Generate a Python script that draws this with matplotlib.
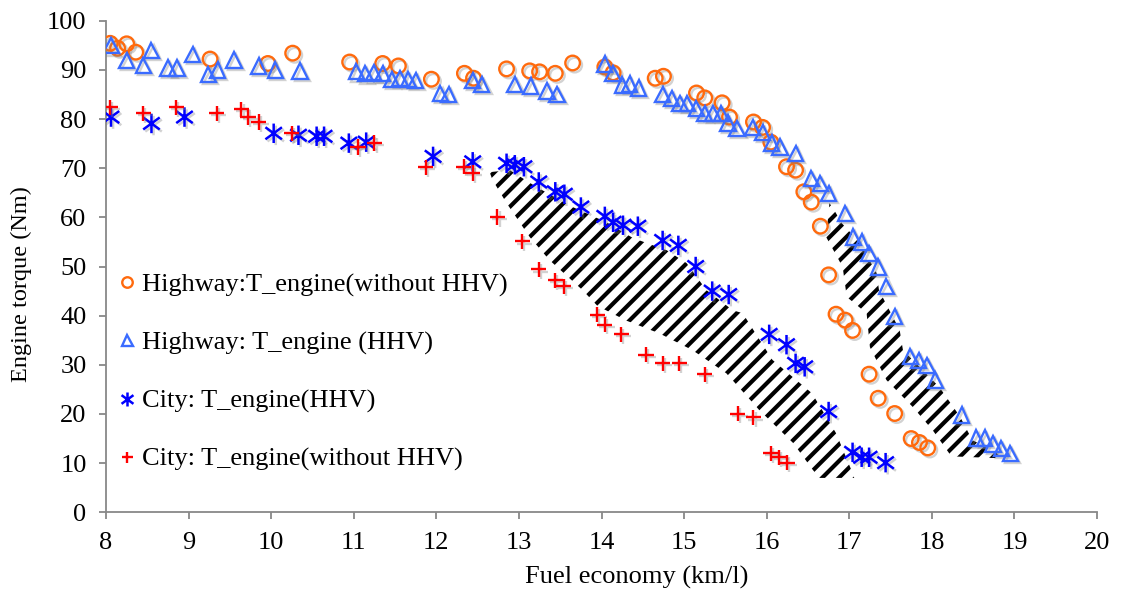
import numpy as np
import matplotlib
matplotlib.use("Agg")
import matplotlib.pyplot as plt
import matplotlib.patheffects as pe
from matplotlib.path import Path

plt.rcParams["font.family"] = ["Liberation Serif", "DejaVu Serif"]
plt.rcParams["hatch.linewidth"] = 3.0

# Highway, without HHV (orange circles)
hw_nohhv_x = [8.05, 8.14, 8.25, 8.36, 9.26, 9.96, 10.26, 10.95, 11.35, 11.54, 11.94, 12.34,
              12.45, 12.85, 13.13, 13.25, 13.44, 13.65, 14.04, 14.14, 14.65, 14.75, 15.15,
              15.25, 15.46, 15.55, 15.84, 15.95, 16.05, 16.24, 16.35, 16.45, 16.54, 16.65,
              16.75, 16.84, 16.95, 17.04, 17.24, 17.35, 17.55, 17.75, 17.85, 17.95]
hw_nohhv_y = [95.4, 94.4, 95.3, 93.6, 92.2, 91.3, 93.4, 91.6, 91.3, 90.8, 88.1, 89.3,
              88.3, 90.2, 89.8, 89.6, 89.3, 91.4, 90.6, 89.4, 88.3, 88.7, 85.3,
              84.3, 83.3, 80.4, 79.4, 78.3, 75.3, 70.3, 69.6, 65.2, 63.1, 58.2,
              48.3, 40.3, 39.1, 37.0, 28.1, 23.2, 20.1, 15.0, 14.2, 13.1]

# Highway, with HHV (blue triangles)
hw_hhv_x = [8.06, 8.25, 8.45, 8.55, 8.75, 8.86, 9.05, 9.24, 9.35, 9.55, 9.85, 10.05, 10.35,
            11.03, 11.14, 11.24, 11.35, 11.46, 11.56, 11.66, 11.75, 12.05, 12.15, 12.44,
            12.55, 12.95, 13.14, 13.34, 13.46, 14.04, 14.14, 14.25, 14.34, 14.45, 14.74,
            14.85, 14.95, 15.04, 15.15, 15.25, 15.35, 15.45, 15.53, 15.64, 15.83, 15.95,
            16.06, 16.16, 16.35, 16.54, 16.65, 16.75, 16.95, 17.05, 17.15, 17.24, 17.35,
            17.45, 17.55, 17.74, 17.84, 17.94, 18.04, 18.36, 18.54, 18.64, 18.74, 18.84, 18.95]
hw_hhv_y = [94.9, 91.9, 90.9, 94.0, 90.4, 90.4, 93.2, 89.1, 90.0, 92.0, 90.8, 90.0, 89.8,
            89.6, 89.2, 89.4, 89.3, 88.1, 88.3, 88.1, 87.9, 85.2, 85.0, 87.9,
            87.0, 87.0, 86.7, 85.7, 85.0, 91.2, 89.3, 86.9, 87.1, 86.3, 85.0,
            84.2, 83.2, 83.2, 82.2, 81.2, 81.2, 81.2, 79.2, 78.1, 78.3, 77.3,
            75.1, 74.3, 73.0, 67.9, 66.9, 64.9, 60.8, 56.0, 55.0, 52.6, 49.9,
            45.9, 39.9, 31.7, 30.9, 29.9, 26.9, 19.8, 15.1, 15.1, 13.9, 13.0, 12.0]

# City, with HHV (blue stars)
city_hhv_x = [8.06, 8.55, 8.95, 10.03, 10.33, 10.55, 10.64, 10.94, 11.15, 11.96, 12.44,
              12.85, 12.95, 13.06, 13.24, 13.44, 13.55, 13.75, 14.04, 14.14, 14.26, 14.44,
              14.74, 14.93, 15.14, 15.34, 15.54, 16.03, 16.24, 16.35, 16.46, 16.75, 17.04,
              17.15, 17.24, 17.44]
city_hhv_y = [80.4, 79.1, 80.4, 77.1, 76.7, 76.5, 76.5, 75.1, 75.3, 72.4, 71.3,
              71.0, 70.7, 70.3, 67.2, 65.2, 64.7, 62.1, 60.2, 59.0, 58.4, 58.2,
              55.3, 54.3, 50.0, 45.0, 44.3, 36.2, 34.1, 30.3, 29.6, 20.5, 12.2,
              11.2, 11.2, 10.1]

# City, without HHV (red plus)
city_nohhv_x = [8.05, 8.45, 8.85, 9.34, 9.64, 9.72, 9.85, 10.25, 11.05, 11.25, 11.87, 12.33,
                12.44, 12.74, 13.04, 13.24, 13.44, 13.54, 13.95, 14.04, 14.24, 14.54,
                14.74, 14.94, 15.25, 15.65, 15.84, 16.05, 16.15, 16.25]
city_nohhv_y = [82.4, 81.2, 82.4, 81.2, 82.0, 80.4, 79.4, 77.1, 74.3, 75.1, 70.2, 70.3,
                69.0, 60.1, 55.1, 49.4, 47.2, 46.0, 40.2, 38.2, 36.2, 32.1,
                30.3, 30.3, 28.1, 20.1, 19.3, 12.0, 11.2, 10.1]

# hatched bands between the series
city_band_x = [12.645, 12.89, 13.21, 13.65, 14.06, 14.38, 14.79, 15.03, 15.27, 15.59, 15.71,
               16.07, 16.55, 16.84, 17.04, 17.06, 16.64, 16.56, 16.32, 15.91, 15.51,
               15.10, 14.70, 14.30, 13.95, 13.77, 13.37, 13.13, 12.85, 12.68]
city_band_y = [69.2, 69.6, 66.2, 62.1, 59.0, 55.8, 53.3, 50.7, 45.2, 41.1, 40.5,
               31.0, 24.2, 16.1, 8.0, 7.0, 7.0, 8.6, 14.1, 20.8, 28.3,
               33.0, 36.4, 39.0, 42.0, 45.2, 51.3, 56.0, 62.9, 67.6]
hw_band_x = [16.76, 16.72, 16.92, 16.97, 17.21, 17.25, 17.45, 17.77, 18.01, 18.21, 18.22,
             18.82, 18.79, 18.49, 18.34, 18.09, 17.65, 17.61, 17.36, 17.33, 17.13, 16.91, 16.82]
hw_band_y = [62.9, 56.0, 49.9, 43.8, 40.5, 33.6, 26.9, 21.4, 16.7, 12.0, 11.4,
             11.0, 12.0, 14.7, 19.5, 25.5, 33.0, 37.1, 45.2, 48.7, 54.8, 58.8, 61.4]

labels = ["Highway:T_engine(without HHV)", "Highway: T_engine (HHV)",
          "City: T_engine(HHV)", "City: T_engine(without HHV)"]

star = Path([(0, -1), (0, 1), (-0.85, -0.62), (0.85, 0.62), (-0.85, 0.62), (0.85, -0.62)],
            [Path.MOVETO, Path.LINETO, Path.MOVETO, Path.LINETO, Path.MOVETO, Path.LINETO])

shadow = [pe.SimpleLineShadow(offset=(1.5, -1.5), shadow_color="gray", alpha=0.35), pe.Normal()]

fig = plt.figure(figsize=(11.21, 5.92), dpi=100)
ax = fig.add_axes([0.0946, 0.1346, 0.884, 0.8304])

for bx, by in [(city_band_x, city_band_y), (hw_band_x, hw_band_y)]:
    ax.fill(bx, by, facecolor="none", edgecolor="black", hatch="//", linewidth=0, zorder=1)

ax.plot(hw_nohhv_x, hw_nohhv_y, ls="none", marker="o", ms=10.5, mfc="none", mec="#FF6A0D",
        mew=1.7, label=labels[0], zorder=3, path_effects=shadow)
ax.plot(hw_hhv_x, hw_hhv_y, ls="none", marker="^", ms=11, mfc="none", mec="#3A6BFF",
        mew=1.7, label=labels[1], zorder=3, path_effects=shadow)
ax.plot(city_hhv_x, city_hhv_y, ls="none", marker=star, ms=14, mec="#0000FF",
        mew=1.8, label=labels[2], zorder=4, path_effects=shadow)
ax.plot(city_nohhv_x, city_nohhv_y, ls="none", marker="+", ms=11, mec="#FF0000",
        mew=1.7, label=labels[3], zorder=4, path_effects=shadow)

ax.set_xlim(8, 20)
ax.set_ylim(0, 100)
ax.set_xticks(np.arange(8, 21, 1))
ax.set_yticks(np.arange(0, 101, 10))
for side in ["top", "right"]:
    ax.spines[side].set_visible(False)
for side in ["left", "bottom"]:
    ax.spines[side].set_color("#888888")
    ax.spines[side].set_linewidth(1.3)
ax.tick_params(axis="both", direction="out", length=5, width=1.3, color="#888888",
               labelsize=19, pad=9)
ax.set_xlabel("Fuel economy (km/l)", fontsize=19)
ax.xaxis.set_label_coords(0.535, -0.11)
ax.set_ylabel("Engine torque (Nm)", fontsize=17.5)
ax.yaxis.set_label_coords(-0.075, 0.465)

leg = ax.legend(loc="center left", bbox_to_anchor=(0.012, 0.285), frameon=False,
                fontsize=19, handlelength=0.7, handletextpad=0.2, labelspacing=1.3,
                markerscale=0.72, borderpad=0, borderaxespad=0, numpoints=1)
for h in leg.legend_handles:
    h.set_path_effects([])

fig.savefig("out.png", dpi=100)
